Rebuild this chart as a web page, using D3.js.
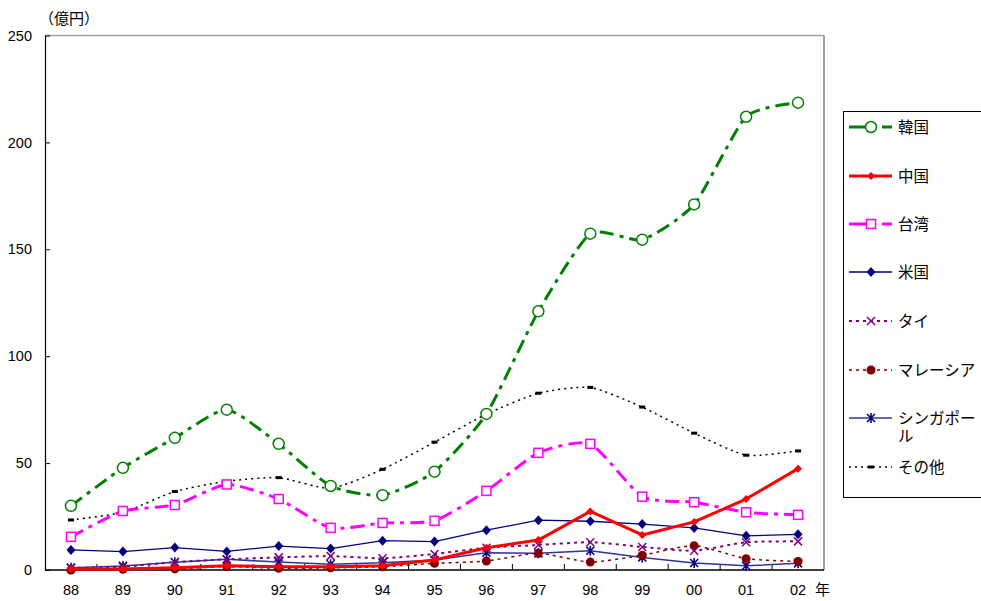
<!DOCTYPE html>
<html>
<head>
<meta charset="utf-8">
<script src="https://cdn.jsdelivr.net/npm/d3@7"></script>
<style>
  body { margin: 0; background: #fff; }
  svg { display: block; font-family: "Liberation Sans", Arial, "Noto Sans CJK JP", sans-serif; }
</style>
</head>
<body>
<svg id="chart" width="981" height="601"></svg>
<script>
// Years (category axis)
const years = ["88","89","90","91","92","93","94","95","96","97","98","99","00","01","02"];
const yTicks = [0, 50, 100, 150, 200, 250];

// Series values (億円)
const korea     = [30, 47.8, 61.8, 75, 59, 39.3, 35, 46, 73, 121, 157.3, 154.5, 171, 212, 218.6];
const china     = [0.5, 0.5, 1, 2, 1.5, 1.5, 2, 4.7, 10.4, 14, 27.4, 16.4, 22.5, 33.2, 47.4];
const taiwan    = [15.5, 27.6, 30.4, 40, 33.2, 19.7, 22, 23, 37, 54.8, 59, 34.3, 31.7, 27, 25.8];
const usa       = [9.4, 8.6, 10.5, 8.7, 11.2, 10, 13.7, 13.3, 18.6, 23.3, 22.8, 21.5, 19.7, 16, 16.7];
const thailand  = [1, 1.5, 3.7, 5, 5.9, 6.5, 5.5, 7.5, 10.4, 11.7, 13, 10.8, 9, 13, 13.4];
const malaysia  = [0, 0.3, 0.5, 1.6, 0.8, 1, 1.5, 3.1, 4.2, 7.8, 3.7, 6.9, 11.4, 5.3, 4];
const singapore = [1.1, 1.9, 3.6, 5, 3.7, 2.7, 3.4, 4.7, 8.1, 7.8, 9, 5.9, 3.3, 2, 3.1];
const others    = [23.4, 27, 36.7, 41.5, 43.2, 38.2, 47.1, 59.8, 72.9, 82.7, 85.4, 76.2, 64, 53.7, 55.7];

const seriesNames = ["韓国", "中国", "台湾", "米国", "タイ", "マレーシア", "シンガポール", "その他"];

const svg = d3.select("#chart");
const plot = { left: 45, right: 824, top: 35.5, bottom: 570 };
const jpFont = "'Noto Sans CJK JP', sans-serif";
const numFont = "'Liberation Sans', Arial, sans-serif";

const x = d3.scaleBand().domain(years).range([plot.left, plot.right]);
const xc = d => x(d) + x.bandwidth() / 2;
const y = d3.scaleLinear().domain([0, 250]).range([plot.bottom, plot.top]);

// Drawing styles for each series
const styles = [
  { data: korea,     color: "#008000", width: 3,   dash: "14,6,4,6", smooth: true,  marker: "circleOpen" },
  { data: china,     color: "#ff0000", width: 3,   dash: null,       smooth: false, marker: "diamondSmall" },
  { data: taiwan,    color: "#ff00ff", width: 3,   dash: "14,6,4,6", smooth: true,  marker: "squareOpen" },
  { data: usa,       color: "#000080", width: 1.3, dash: null,       smooth: false, marker: "diamond" },
  { data: thailand,  color: "#800080", width: 2,   dash: "3,4",      smooth: true,  marker: "cross" },
  { data: malaysia,  color: "#800000", width: 1.5, dash: "3,4",      smooth: true,  marker: "dot" },
  { data: singapore, color: "#333399", width: 1.5, dash: null,       smooth: false, marker: "star" },
  { data: others,    color: "#000000", width: 1.5, dash: "2,4",      smooth: true,  marker: "bar" }
];

// Plot frame: gray top/right, black axes
svg.append("line").attr("x1", plot.left).attr("x2", plot.right).attr("y1", plot.top).attr("y2", plot.top)
  .attr("stroke", "#a0a0a0").attr("stroke-width", 1.5);
svg.append("line").attr("x1", plot.right).attr("x2", plot.right).attr("y1", plot.top).attr("y2", plot.bottom)
  .attr("stroke", "#a0a0a0").attr("stroke-width", 2);

// Y axis (ticks pointing inward)
const yAxis = d3.axisLeft(y).tickValues(yTicks).tickSizeInner(-5).tickSizeOuter(0).tickPadding(13);
const gy = svg.append("g").attr("transform", `translate(${plot.left},0)`).call(yAxis);
gy.select(".domain").attr("stroke", "#000").attr("stroke-width", 1.2);
gy.selectAll(".tick line").attr("stroke", "#000");
gy.selectAll("text").attr("font-size", 14.5).attr("fill", "#000").attr("font-family", numFont);

// X axis: labels centred on categories, tick marks between categories pointing up
const xAxis = d3.axisBottom(x).tickSize(0).tickPadding(15);
const gx = svg.append("g").attr("transform", `translate(0,${plot.bottom})`).call(xAxis);
gx.select(".domain").remove();
gx.selectAll("text").attr("font-size", 14.5).attr("fill", "#000").attr("font-family", numFont);
svg.append("line").attr("x1", plot.left).attr("x2", plot.right).attr("y1", plot.bottom).attr("y2", plot.bottom)
  .attr("stroke", "#000").attr("stroke-width", 1.5);
svg.append("g").selectAll("line").data(years.slice(1)).join("line")
  .attr("x1", d => x(d)).attr("x2", d => x(d))
  .attr("y1", plot.bottom).attr("y2", plot.bottom - 6)
  .attr("stroke", "#000").attr("stroke-width", 1);

// Axis titles
svg.append("text").attr("x", 39).attr("y", 24).attr("font-size", 15)
  .attr("font-family", jpFont).text("（億円）");
svg.append("text").attr("x", 815).attr("y", 595).attr("font-size", 15)
  .attr("font-family", jpFont).text("年");

// Marker drawing
function drawMarker(g, type, color, cx, cy) {
  switch (type) {
    case "circleOpen":
      g.append("circle").attr("cx", cx).attr("cy", cy).attr("r", 5.5)
        .attr("fill", "#fff").attr("stroke", color).attr("stroke-width", 1.5);
      break;
    case "squareOpen":
      g.append("rect").attr("x", cx - 4.5).attr("y", cy - 4.5).attr("width", 9).attr("height", 9)
        .attr("fill", "#fff").attr("stroke", color).attr("stroke-width", 1.5);
      break;
    case "diamondSmall":
      g.append("path").attr("d", `M${cx},${cy - 4}L${cx + 4},${cy}L${cx},${cy + 4}L${cx - 4},${cy}Z`)
        .attr("fill", color);
      break;
    case "diamond":
      g.append("path").attr("d", `M${cx},${cy - 5}L${cx + 4.5},${cy}L${cx},${cy + 5}L${cx - 4.5},${cy}Z`)
        .attr("fill", color);
      break;
    case "cross":
      g.append("path").attr("d", `M${cx - 4},${cy - 4}L${cx + 4},${cy + 4}M${cx - 4},${cy + 4}L${cx + 4},${cy - 4}`)
        .attr("stroke", color).attr("stroke-width", 1.5).attr("fill", "none");
      break;
    case "dot":
      g.append("circle").attr("cx", cx).attr("cy", cy).attr("r", 4.5).attr("fill", color);
      break;
    case "star":
      g.append("path").attr("d",
        `M${cx - 4},${cy - 4}L${cx + 4},${cy + 4}M${cx - 4},${cy + 4}L${cx + 4},${cy - 4}M${cx},${cy - 5}L${cx},${cy + 5}`)
        .attr("stroke", "#000080").attr("stroke-width", 1.6).attr("fill", "none");
      break;
    case "bar":
      g.append("rect").attr("x", cx - 3).attr("y", cy - 1.5).attr("width", 6).attr("height", 3).attr("fill", color);
      break;
  }
}

// Series lines and markers (drawn bottom series first so 韓国 is on top)
const order = [7, 6, 5, 4, 3, 2, 1, 0];
order.forEach(i => {
  const s = styles[i];
  const g = svg.append("g");
  const line = d3.line()
    .x((d, k) => xc(years[k]))
    .y(d => y(d))
    .curve(s.smooth ? d3.curveCardinal.tension(0.4) : d3.curveLinear);
  g.append("path").datum(s.data).attr("d", line)
    .attr("fill", "none").attr("stroke", s.color).attr("stroke-width", s.width)
    .attr("stroke-dasharray", s.dash).attr("stroke-linejoin", "round");
  s.data.forEach((v, k) => drawMarker(g, s.marker, s.color, xc(years[k]), y(v)));
});

// Legend
const legend = svg.append("g");
legend.append("rect").attr("x", 843.5).attr("y", 111.5).attr("width", 150).attr("height", 386)
  .attr("fill", "#fff").attr("stroke", "#000").attr("stroke-width", 1);
const legendY = [127, 176, 224, 272, 321, 370, 418, 467];
seriesNames.forEach((name, i) => {
  const s = styles[i];
  const ly = legendY[i];
  const g = legend.append("g");
  g.append("line").attr("x1", 849).attr("x2", 892).attr("y1", ly).attr("y2", ly)
    .attr("stroke", s.color).attr("stroke-width", s.width)
    .attr("stroke-dasharray", s.dash ? (i === 0 || i === 2 ? "18,6,3,6" : s.dash) : null);
  drawMarker(g, s.marker, s.color, 871, ly);
  const t = g.append("text").attr("x", 898).attr("y", ly + 6).attr("font-size", 15.5)
    .attr("font-family", jpFont);
  if (name === "シンガポール") {
    // wrapped onto two lines within the legend box
    t.append("tspan").attr("x", 898).text("シンガポー");
    t.append("tspan").attr("x", 898).attr("dy", 18).text("ル");
  } else {
    t.text(name);
  }
});
</script>
</body>
</html>
